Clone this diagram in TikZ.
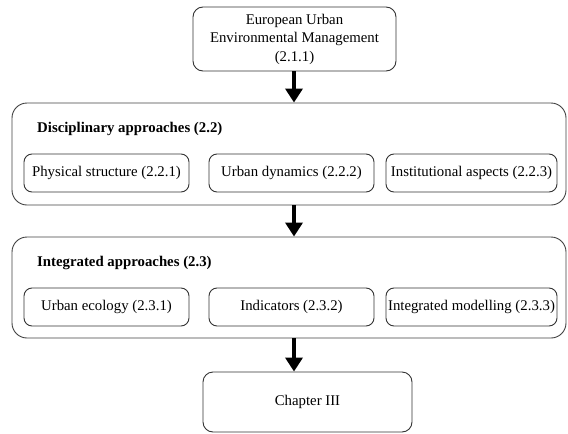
\documentclass[tikz,border=0pt]{standalone}
\usepackage{fontspec}
\setmainfont{Liberation Serif}
\usetikzlibrary{arrows.meta}
\begin{document}
\begin{tikzpicture}[x=1pt,y=1pt,
  every node/.style={font=\fontsize{14.8}{18.5}\selectfont},
  topbox/.style={draw=black!80, line width=0.9pt, rounded corners=10pt, align=center, inner sep=0pt},
  groupbox/.style={draw=black!75, line width=0.9pt, rounded corners=15pt, inner sep=0pt},
  itembox/.style={draw=black!80, line width=0.9pt, rounded corners=8pt, inner sep=0pt, minimum height=38pt},
  grouptitle/.style={anchor=west, font=\fontsize{14.8}{18}\selectfont\bfseries, inner sep=0pt},
  flow/.style={line width=4.5pt, -{Triangle[width=17pt,length=14pt]}}
]
\useasboundingbox (0,0) rectangle (568,-434);

% source box
\node[topbox, minimum width=203pt, minimum height=64pt] (eum) at (294.5,-39)
  {European Urban\\Environmental Management\\(2.1.1)};

% disciplinary approaches
\node[groupbox, minimum width=554pt, minimum height=102pt] (disc) at (289,-154) {};
\node[grouptitle] (disct) at (37,-129) {Disciplinary approaches (2.2)};
\node[itembox, minimum width=165pt] (phys) at (106.5,-173) {Physical structure (2.2.1)};
\node[itembox, minimum width=165pt] (dyn) at (291.5,-173) {Urban dynamics (2.2.2)};
\node[itembox, minimum width=171pt] (inst) at (471.5,-173) {Institutional aspects (2.2.3)};

% integrated approaches
\node[groupbox, minimum width=554pt, minimum height=101pt] (integ) at (289,-287.5) {};
\node[grouptitle] (integt) at (37,-263) {Integrated approaches (2.3)};
\node[itembox, minimum width=165pt] (eco) at (106.5,-307) {Urban ecology (2.3.1)};
\node[itembox, minimum width=165pt] (ind) at (291.5,-307) {Indicators (2.3.2)};
\node[itembox, minimum width=171pt] (mod) at (471.5,-307) {Integrated modelling (2.3.3)};

% next chapter
\node[topbox, minimum width=209pt, minimum height=60pt] (ch3) at (307.5,-402) {Chapter III};

% flow arrows
\draw[flow] (eum.south -| 294,0) -- (disc.north -| 294,0);
\draw[flow] (disc.south -| 294,0) -- (integ.north -| 294,0);
\draw[flow] (integ.south -| 294,0) -- (ch3.north -| 294,0);
\end{tikzpicture}
\end{document}
